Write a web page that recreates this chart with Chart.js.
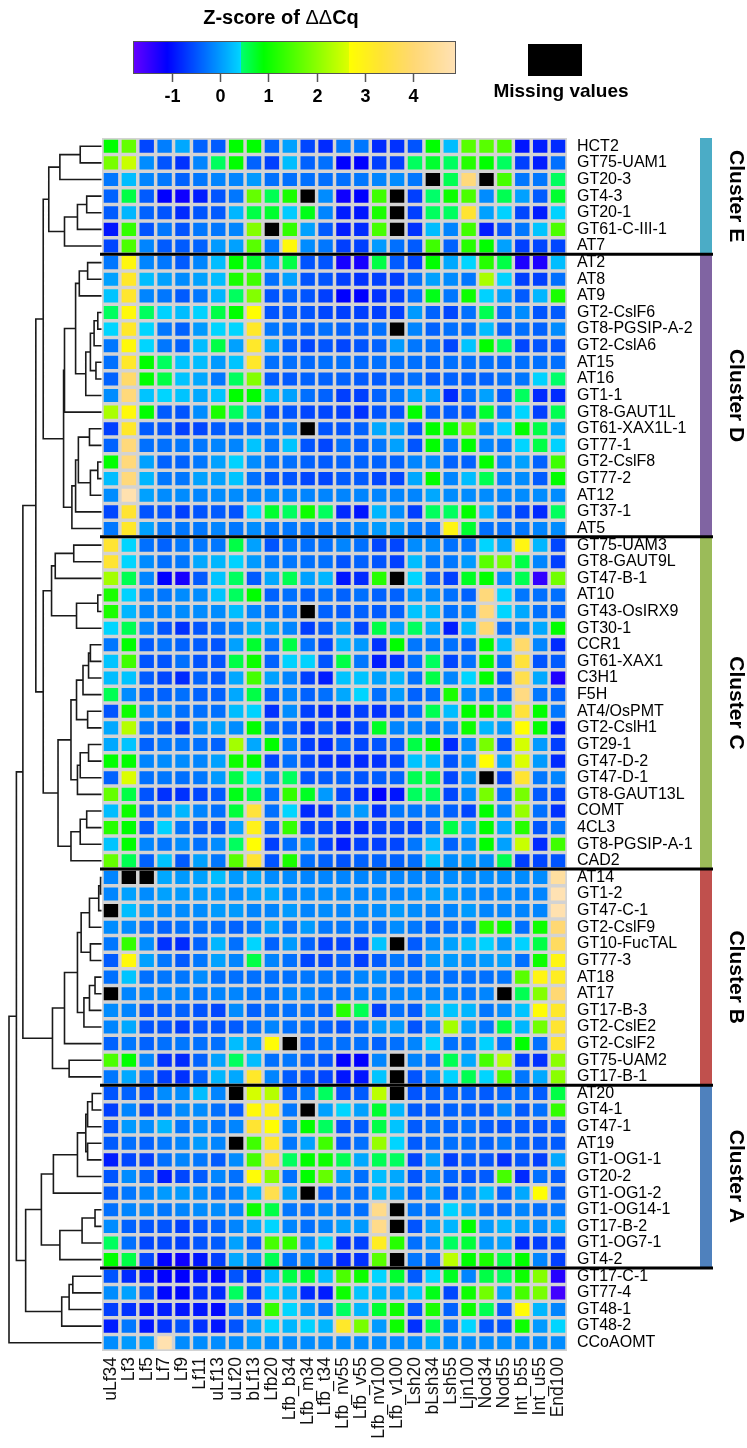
<!DOCTYPE html>
<html>
<head>
<meta charset="utf-8">
<script src="https://cdn.jsdelivr.net/npm/chart.js@4.4.1/dist/chart.umd.min.js"></script>
<style>
  html, body { margin: 0; padding: 0; background: #fff; }
  #wrap { width: 747px; height: 1448px; position: relative; }
</style>
</head>
<body>
<div id="wrap"><canvas id="heat" width="747" height="1448"></canvas></div>
<script>
// Tissue / stage columns
const conditions = ['uLf34','Lf3','Lf5','Lf7','Lf9','Lf11','uLf13','uLf20','bLf13','Lfb20','Lfb_b34','Lfb_m34','Lfb_t34','Lfb_nv55','Lfb_v55','Lfb_nv100','Lfb_v100','Lsh20','bLsh34','Lsh55','Ljn100','Nod34','Nod55','Int_b55','Int_u55','End100'];

// Genes, top to bottom, grouped by cluster
const genesE = ['HCT2','GT75-UAM1','GT20-3','GT4-3','GT20-1','GT61-C-III-1','AT7'];
const genesD = ['AT2','AT8','AT9','GT2-CslF6','GT8-PGSIP-A-2','GT2-CslA6','AT15','AT16','GT1-1','GT8-GAUT1L','GT61-XAX1L-1','GT77-1','GT2-CslF8','GT77-2','AT12','GT37-1','AT5'];
const genesC = ['GT75-UAM3','GT8-GAUT9L','GT47-B-1','AT10','GT43-OsIRX9','GT30-1','CCR1','GT61-XAX1','C3H1','F5H','AT4/OsPMT','GT2-CslH1','GT29-1','GT47-D-2','GT47-D-1','GT8-GAUT13L','COMT','4CL3','GT8-PGSIP-A-1','CAD2'];
const genesB = ['AT14','GT1-2','GT47-C-1','GT2-CslF9','GT10-FucTAL','GT77-3','AT18','AT17','GT17-B-3','GT2-CslE2','GT2-CslF2','GT75-UAM2','GT17-B-1'];
const genesA = ['AT20','GT4-1','GT47-1','AT19','GT1-OG1-1','GT20-2','GT1-OG1-2','GT1-OG14-1','GT17-B-2','GT1-OG7-1','GT4-2'];
const genesOther = ['GT17-C-1','GT77-4','GT48-1','GT48-2','CCoAOMT'];

// Z-scores of ddCq, one row per gene (null = missing value)
const zE = [
  [0.9,1.7,-0.6,-0.2,0.1,-0.4,-0.45,0.9,0.9,-0.4,0.05,-0.6,-0.8,-0.25,-0.25,-0.8,-0.75,-0.5,0.9,0.25,1.6,1.6,1.5,-0.95,-0.9,-0.8],
  [1.85,2.5,-0.1,-0.5,-0.75,-0.15,0.5,0.9,-0.4,-0.65,0.25,-0.4,-0.3,-1.1,-1.1,-0.65,-0.65,0.5,0.7,0.5,1.2,0.9,0.5,-0.65,-0.9,-0.3],
  [-0.25,0.25,-0.15,-0.25,-0.4,-0.25,-0.15,-0.15,0,-0.3,-0.3,-0.3,-0.3,-0.3,-0.25,-0.15,-0.1,-0.25,null,0.55,4.1,null,1.45,-0.25,-0.25,0.5],
  [-0.4,0.6,-0.45,-1.1,-1.2,-0.9,-0.5,-0.25,1.7,0.55,1.1,null,-0.1,-1.2,-1.1,1.4,null,-0.65,0.45,1.0,1.5,-0.1,0.55,0.05,-0.45,0.7],
  [-0.45,0.2,-0.4,-0.5,-0.8,-0.5,-0.45,0.2,0.6,0.7,0.35,0.8,-0.15,-0.9,-0.95,1.1,null,-0.65,0.5,0.5,3.3,0.05,0.4,-0.6,-0.9,0.4],
  [-0.95,1.3,-0.5,-0.25,-0.5,-0.25,-0.25,-0.15,1.95,null,1.3,0.05,-0.45,-0.9,-0.8,1.45,null,-0.75,0.25,-0.15,1.4,-0.9,-0.5,-0.25,0.3,1.5],
  [-0.6,1.5,-0.15,-0.45,-0.45,-0.4,0,0.05,1.6,-0.25,2.8,-0.1,-0.25,-0.65,-0.65,0,-0.3,-0.45,1.4,-0.4,1.2,0.9,0.05,-0.65,-0.6,-0.6]
];
const zD = [
  [-0.25,2.85,-0.15,-0.25,-0.45,-0.15,0.25,0.9,0.7,0.1,0.6,-0.5,-0.5,-1.25,-1.25,0.6,-0.45,-0.6,0.9,0.1,0.42,1.2,0.6,-1.3,-1.3,0.25],
  [0.05,3.2,0.25,0.05,-0.1,0.05,0.25,1.1,1.4,-0.3,0.05,-0.5,-0.5,-0.65,-0.75,-0.65,-0.65,-0.3,0.05,-0.1,-0.25,2.25,0.4,-0.65,-0.65,-0.3],
  [0.3,3.25,-0.15,-0.25,-0.45,-0.25,0.2,0.5,1.95,-0.5,-0.4,-0.5,-0.65,-1.1,-1.1,-0.75,-0.65,-0.3,0.8,-0.25,1.0,0.4,0.05,-0.45,0.2,1.1],
  [0.5,2.8,0.5,0.4,0.25,0.4,0.6,0.9,2.7,-0.5,-0.45,-0.5,-0.6,-0.65,-0.65,-0.65,-0.65,0,-0.4,-0.6,-0.3,0.55,-0.3,-0.1,-0.5,-0.45],
  [0.42,3.2,0.42,-0.25,-0.4,0,0.42,0.42,3.2,-0.25,-0.3,-0.4,-0.3,-0.4,-0.4,-0.3,null,-0.15,-0.4,-0.3,-0.3,0.25,-0.4,-0.3,-0.4,-0.1],
  [-0.25,2.8,0.42,-0.25,-0.4,0.25,0.6,0.05,3.2,0.05,-0.45,-0.6,-0.5,-0.6,-0.5,-0.4,0,-0.25,-0.3,-0.6,0.3,0.9,0.5,-0.6,-0.5,-0.5],
  [-0.3,3.2,0.9,0.5,0.3,0.25,0,0.3,3.2,-0.3,-0.3,-0.35,-0.3,-0.3,-0.35,-0.3,-0.3,-0.3,-0.35,-0.3,-0.3,-0.3,-0.35,-0.3,-0.3,-0.3],
  [-0.4,3.9,0.9,0.6,0.3,0.1,-0.25,0.5,1.95,-0.45,-0.45,-0.4,-0.4,-0.4,-0.45,-0.45,-0.4,-0.3,-0.45,-0.4,-0.4,-0.4,-0.3,-0.25,0.4,0.45],
  [-0.1,4.1,0.3,0.42,0.3,0.1,0.3,0.9,0.9,0.2,0.05,-0.3,-0.4,-0.65,-0.65,-0.4,-0.25,0.05,0.05,-0.8,-0.3,0.05,-0.45,0.5,-0.8,-0.8],
  [2.25,2.8,0.9,-0.45,-0.5,-0.1,1.1,0.5,0.1,-0.5,-0.5,-0.6,-0.6,-0.65,-0.75,-0.5,-0.5,0.9,-0.4,-0.45,-0.45,0.7,-0.25,0.42,-0.65,0.55],
  [-0.65,3.2,-0.45,-0.5,-0.65,-0.6,-0.45,-0.4,-0.4,-0.3,-0.25,null,-0.5,-0.5,-0.4,0.1,0.05,-0.5,0.9,1.0,1.7,-0.1,0.4,0.9,0.6,0.1],
  [-0.4,4.1,-0.3,-0.3,-0.25,-0.25,-0.15,-0.15,0.3,-0.25,0.3,-0.5,-0.6,-0.3,-0.45,-0.25,0.05,-0.5,0.9,-0.25,0.9,-0.15,-0.25,0.42,0.6,0.4],
  [0.9,4.1,0.05,-0.4,-0.4,-0.25,0.05,0.4,-0.1,-0.3,-0.3,-0.4,-0.45,-0.4,-0.4,-0.4,-0.4,-0.15,-0.1,-0.4,-0.4,0.9,-0.15,0.05,-0.4,1.4],
  [0.25,4.1,0.2,-0.25,-0.25,0.05,0.05,0.3,-0.3,-0.5,-0.5,-0.6,-0.6,-0.45,-0.45,-0.6,-0.6,0.1,0.9,-0.15,0.25,0.55,-0.15,-0.1,-0.45,0.9],
  [-0.1,4.8,0.05,-0.1,-0.1,-0.15,-0.1,-0.1,-0.15,-0.1,-0.15,-0.15,-0.15,-0.15,-0.15,-0.15,-0.15,-0.15,0.1,-0.1,-0.1,-0.1,-0.15,-0.1,-0.1,-0.1],
  [-0.6,3.3,-0.5,-0.5,-0.65,-0.5,-0.45,-0.5,0.42,0.7,0.5,1.0,0.5,-0.8,-0.95,0.2,-0.1,-0.65,0.5,0.5,0.9,0.2,-0.4,-0.6,-0.8,0.5],
  [-0.25,3.2,0.05,-0.25,-0.25,-0.25,-0.15,-0.25,-0.1,-0.25,-0.25,-0.25,-0.25,-0.25,-0.15,0,0,-0.25,-0.25,2.9,0.7,-0.3,-0.3,-0.25,-0.15,-0.1]
];
const zC = [
  [3.3,0.42,-0.3,-0.4,-0.25,-0.25,-0.25,0.6,0.05,-0.5,-0.3,-0.3,-0.3,-0.15,-0.3,-0.6,-0.6,-0.1,-0.1,-0.3,-0.25,0.42,0.1,2.9,0.2,-0.6],
  [3.3,0.42,-0.1,-0.3,-0.25,0.1,0.2,0.4,0,-0.25,-0.25,-0.3,-0.3,-0.5,-0.4,-0.5,-0.65,0.25,-0.25,-0.25,0,1.6,1.85,0.6,-0.15,-0.65],
  [2.2,0.55,-0.15,-1.1,-1.25,-0.45,0.3,0.5,-0.45,0.1,0.55,0.05,0.2,-0.95,-0.8,1.2,null,0.42,-0.4,-0.65,0.75,0.9,-0.1,0.55,-1.45,1.8],
  [1.1,0.4,-0.15,-0.25,-0.1,-0.1,0.3,0.5,0.9,-0.4,-0.3,-0.4,-0.3,-0.4,-0.3,-0.4,-0.4,0,-0.1,-0.3,-0.4,4.1,0.42,-0.25,-0.3,-0.3],
  [1.1,0.2,-0.15,-0.15,-0.1,-0.1,-0.1,0.25,-0.15,-0.3,-0.3,null,-0.4,-0.45,-0.4,-0.45,-0.4,0.3,0.2,-0.3,-0.15,4.1,0.42,0.1,-0.3,-0.4],
  [0.42,0.55,-0.15,-0.5,-0.75,-0.5,-0.3,-0.15,0.1,0.05,-0.15,-0.65,-0.45,0.05,-0.6,0.6,0.05,0.5,0.1,-0.9,0.2,4.0,-0.3,-0.1,0.1,0.9],
  [-0.25,0.9,-0.45,-0.3,-0.4,-0.45,-0.5,0.05,0.7,-0.3,0.6,-0.3,-0.6,0.2,0,-0.75,0.9,-0.25,-0.25,-0.3,-0.4,0.9,0.25,3.9,-0.15,-0.8],
  [0.3,1.4,-0.5,-0.5,-0.3,-0.5,-0.5,0.6,1.0,-0.4,0.4,0.4,-0.5,0.6,-0.25,-0.9,-0.75,-0.3,0.5,-0.6,-0.3,0.9,-0.3,3.4,-0.5,-0.45],
  [0.25,0.3,-0.45,-0.6,-0.8,-0.4,-0.5,0.1,1.45,0.05,-0.15,-0.65,-0.9,0.3,0.3,0.05,0.2,-0.3,0.6,-0.15,0.42,0.9,-0.45,3.6,0.1,-1.3],
  [0.55,-0.1,-0.4,-0.4,-0.3,-0.4,-0.4,0.1,0.6,-0.4,-0.15,-0.4,-0.3,0.1,0.42,-0.3,0,-0.4,-0.3,1.1,-0.1,-0.15,-0.3,4.2,-0.25,-0.4],
  [-0.5,1.0,-0.1,-0.1,-0.3,-0.3,-0.3,0.25,0.4,-0.75,-0.1,-0.65,-0.8,-0.8,-0.65,-0.75,-0.6,-0.3,0.55,0.25,0.9,0.9,0.6,3.4,0.9,-0.25],
  [0.1,2.35,-0.25,-0.4,-0.65,-0.1,0.05,-0.1,0.9,-0.4,-0.4,-0.75,-0.5,-0.8,-0.6,0.75,-0.15,-0.15,-0.25,-0.1,1.0,0.2,0,2.7,0.9,-0.9],
  [0.1,0.3,-0.4,-0.25,-0.25,-0.3,-0.4,2.2,0.1,0.9,-0.25,-0.65,-0.8,-0.4,-0.6,-0.5,-0.45,0.6,0.9,-0.8,-0.1,1.85,-0.5,2.6,0,-0.65],
  [0.9,0.9,-0.15,-0.1,-0.1,-0.15,0.05,1.0,0.9,-0.6,-0.3,-0.6,-0.75,-0.8,-0.8,-0.75,-0.6,0.3,0.2,-0.5,0,2.7,0.05,2.65,0,-0.8],
  [-0.4,2.65,-0.3,-0.25,-0.3,-0.25,0,0.6,0.42,-0.15,0.5,-0.5,-0.45,-0.4,-0.5,-0.45,-0.4,0.55,0.6,-0.6,0,null,-0.6,3.3,-0.25,-0.15],
  [1.7,0.6,-0.5,-0.75,-0.75,-0.6,-0.45,0.8,0.6,-0.3,1.3,0.75,0,-0.6,-0.8,-1.1,-0.95,0.5,0.5,-0.6,-0.1,1.85,-0.3,1.85,-0.45,-0.6],
  [0.25,1.0,-0.4,-0.15,0.2,-0.15,-0.3,0.65,3.4,-0.3,0.42,-0.8,-0.75,-0.1,0,-0.75,-0.25,-0.25,-0.25,-0.4,-0.6,0.9,-0.15,2.1,-0.3,-0.75],
  [1.2,0.9,-0.45,0.4,-0.25,-0.45,-0.5,0.05,3.0,-0.4,1.3,-0.65,-0.6,-0.8,-0.8,-0.65,-0.6,-0.65,-0.25,0.6,0.1,0.9,0.1,1.2,-0.5,-0.25],
  [0.3,0.9,-0.15,-0.25,-0.1,-0.3,-0.1,0.5,2.7,-0.65,-0.3,-0.15,-0.65,-0.9,-0.65,-0.65,-0.6,-0.25,0.25,-0.4,-0.1,0.9,0.05,2.5,-0.8,1.4],
  [1.7,0.55,-0.4,0.3,-0.45,0.05,-0.25,1.6,3.3,-0.5,1.1,-0.3,-0.4,-0.5,-0.4,-0.4,-0.4,-0.3,0.3,-0.1,0,-0.1,0.55,-0.65,-0.6,-0.5]
];
const zB = [
  [-0.15,null,null,0.1,0,0.05,0.25,0,0.1,-0.1,-0.1,-0.15,-0.15,-0.15,-0.15,-0.15,-0.15,-0.15,-0.15,-0.1,-0.1,-0.1,-0.1,-0.1,-0.1,4.6],
  [-0.15,0.05,-0.1,0.05,0,0,0,-0.1,0.05,0.1,-0.15,-0.1,-0.1,-0.1,-0.15,-0.1,-0.15,-0.1,0.05,0,-0.1,-0.15,-0.1,-0.15,-0.15,4.85],
  [null,0.25,0,-0.1,-0.1,-0.1,0,0,-0.15,-0.15,0,-0.15,-0.1,-0.15,-0.1,-0.1,0,-0.1,-0.15,-0.15,0,-0.15,-0.15,-0.15,-0.15,4.8],
  [-0.1,-0.1,-0.3,-0.4,-0.3,-0.3,-0.3,-0.4,-0.3,0.05,-0.3,0,-0.25,-0.25,-0.25,-0.3,-0.1,-0.25,-0.4,-0.3,-0.3,1.2,1.0,-0.3,1.0,4.0],
  [-0.25,1.3,-0.1,-0.75,-0.8,-0.4,0.2,-0.3,0.42,-0.4,0,-0.4,-0.65,-0.6,-0.65,0.3,null,-0.45,-0.1,0.05,0.25,0.4,0,0.4,0.6,3.8],
  [-0.45,2.8,0.05,-0.25,-0.45,-0.25,0.05,-0.15,0.6,-0.15,-0.3,-0.6,-0.6,-0.4,-0.65,-0.45,-0.25,-0.4,0,0,-0.1,0,0.05,-0.3,1.0,2.9],
  [-0.3,0.3,-0.3,-0.25,-0.25,-0.1,-0.3,-0.3,-0.3,-0.3,-0.3,-0.25,-0.25,-0.3,-0.15,-0.1,-0.3,-0.3,-0.3,-0.3,-0.3,-0.3,-0.25,1.6,2.9,3.1],
  [null,-0.15,-0.15,-0.15,-0.15,-0.25,-0.15,-0.15,-0.25,-0.25,-0.15,-0.15,-0.25,-0.25,-0.15,-0.15,-0.15,-0.15,-0.15,-0.15,-0.25,-0.15,null,0.55,1.95,4.0],
  [-0.1,-0.15,-0.5,-0.45,-0.4,-0.5,-0.6,-0.1,-0.4,-0.3,-0.3,-0.3,-0.4,1.2,0.55,-0.65,-0.3,-0.45,0.2,0.3,0.2,-0.25,-0.1,0.3,2.75,3.2],
  [-0.15,0.1,-0.5,-0.5,-0.65,-0.5,-0.5,-0.45,-0.3,-0.15,-0.3,-0.3,-0.4,-0.5,-0.3,0,0,-0.5,-0.15,2.2,0.05,-0.25,0.6,0.2,1.8,3.3],
  [-0.4,-0.25,-0.4,-0.3,-0.25,-0.3,-0.3,0.25,0,2.75,null,-0.4,-0.3,-0.3,-0.3,-0.4,-0.3,-0.15,0.42,-0.3,-0.25,0.4,-0.3,0.9,-0.3,3.3],
  [1.5,0.9,-0.15,-0.75,-0.8,-0.4,0.05,0.5,0.25,-0.3,-0.25,-0.4,-0.5,-1.1,-1.1,-0.15,null,-0.15,-0.3,0.55,0.1,1.45,2.35,-0.65,-0.75,2.0],
  [-0.25,0.1,-0.3,-0.65,-0.75,-0.4,0.2,0.1,3.2,-0.15,-0.45,-0.5,-0.6,-0.95,-0.95,0.3,null,-0.5,-0.1,0.4,0.55,0.42,1.5,-0.25,0.1,2.0]
];
const zA = [
  [-0.5,-0.4,-0.5,-0.1,-0.1,0.25,-0.15,null,2.6,2.35,-0.4,-0.25,0.5,-0.5,-0.45,2.4,null,-0.5,-0.4,-0.4,-0.4,-0.45,-0.4,-0.3,-0.45,0.6],
  [-0.65,-0.15,-0.6,-0.4,-0.1,-0.1,-0.3,-0.45,2.8,3.0,-0.25,null,0.05,0.42,0.05,0.7,0.2,-0.45,-0.45,-0.4,-0.4,-0.45,-0.1,-0.45,-0.3,1.3],
  [-0.5,0,-0.1,0.2,-0.25,-0.1,-0.25,-0.15,3.3,2.7,-0.15,0.9,0.5,-0.5,-0.45,0.6,0.3,-0.45,-0.3,-0.4,-0.3,-0.45,-0.5,-0.45,-0.5,-0.45],
  [-0.45,-0.3,-0.4,-0.25,-0.15,0,-0.15,null,1.4,3.2,-0.25,0.05,1.4,-0.45,-0.3,2.1,0.42,-0.45,-0.3,-0.3,-0.3,-0.4,-0.25,-0.4,-0.45,-0.45],
  [-0.9,-0.6,-0.65,-0.3,-0.15,-0.25,-0.45,-0.1,1.45,3.4,0.5,0.9,1.0,0.55,0.1,0.55,0.5,-0.6,0.05,-0.65,-0.45,-0.5,-0.75,-0.5,-0.65,0.1],
  [-0.5,-0.1,-0.4,-0.9,-0.6,-0.45,-0.15,-0.3,2.75,1.95,-0.3,0.9,1.7,0,-0.3,0.25,0.1,-0.5,-0.1,-0.4,-0.5,-0.45,1.45,-0.8,-0.3,-0.45],
  [-0.45,-0.25,-0.15,0,0,-0.1,-0.3,-0.15,0.2,3.6,0.05,null,-0.4,-0.25,-0.3,0.2,0.05,-0.4,0.05,-0.5,-0.15,0.25,-0.4,0.1,2.7,-0.4],
  [-0.3,-0.15,-0.15,-0.25,-0.15,-0.1,-0.1,-0.15,1.0,0.6,-0.25,-0.3,-0.15,-0.3,-0.3,4.3,null,-0.25,-0.25,0.4,0.1,-0.25,-0.3,-0.15,-0.3,-0.25],
  [-0.1,-0.4,-0.5,-0.5,-0.65,-0.5,-0.4,-0.15,0.1,0.42,-0.15,-0.3,-0.15,0.05,0,4.3,null,-0.5,0.05,0.2,0.9,0,0.2,0.05,-0.1,0.1],
  [0.5,-0.3,-0.6,-0.6,-0.65,-0.5,-0.45,0.05,-0.4,1.45,1.3,-0.1,0.4,-0.75,-0.65,3.1,1.2,-0.3,0,0.5,0.65,0,0.05,-0.8,-0.65,-0.65],
  [0.9,0.6,-0.6,-1.1,-1.2,-0.95,-0.65,0.1,-0.1,0.55,-0.3,-0.15,-0.45,-0.8,-0.75,1.6,null,-0.25,-0.3,2.4,0.9,1.1,0.6,0.9,-0.15,-0.65]
];
const zOther = [
  [-0.5,-0.8,-0.95,-1.1,-1.1,-0.95,-1.05,-0.5,-0.8,0.25,0.6,0.7,0.25,1.5,1.0,0.42,0.7,-0.45,0.42,0.75,-0.15,0.6,0.5,1.0,1.95,-1.35],
  [-0.1,0.05,-0.5,-1.05,-1.05,-0.75,-0.8,0.5,-0.65,0.4,0.2,-0.8,-0.9,1.0,0.3,0.2,0.05,0.3,0.8,-0.6,1.0,1.8,0.05,1.45,1.85,-1.55],
  [-0.65,-0.75,-0.95,-0.9,-0.95,-0.95,-1.05,-0.25,-0.65,1.3,0.42,0.05,-0.3,0.5,0.2,0.7,1.0,-0.5,1.1,-0.4,1.0,0.55,-0.45,2.75,0.2,-0.15],
  [-0.9,-0.25,-0.95,-0.75,-0.5,-0.75,-0.95,-0.5,0,0.42,0.2,0.4,0.2,3.2,1.85,0,1.0,-0.75,0.6,-0.3,0.42,-0.5,-0.5,1.0,0,0.42],
  [-0.1,0,0,4.8,-0.1,-0.1,-0.1,-0.1,0,-0.1,-0.1,-0.1,-0.1,-0.1,-0.1,-0.1,-0.1,-0.1,0.1,-0.1,-0.1,-0.1,-0.1,-0.1,-0.1,-0.1]
];

// Hierarchical clustering of the genes: [left, right, height]
// negative = gene (1-based row), positive = earlier merge step (1-based)
const dendroMerges = [
  [-1,-2,0.23],[1,-3,0.45],[-4,-5,0.16],[3,-6,0.26],[4,-7,0.40],[2,5,0.57],
  [-8,-9,0.15],[7,-10,0.24],[-11,-12,0.04],[9,-13,0.08],[-14,-15,0.06],[10,11,0.12],
  [12,-16,0.17],[8,13,0.28],[14,-17,0.40],[-18,-19,0.13],[-20,-21,0.04],[17,-22,0.12],
  [16,18,0.25],[19,-23,0.28],[20,-24,0.32],[15,21,0.41],[6,22,0.63],
  [-25,-26,0.30],[24,-27,0.50],[-28,-29,0.04],[26,-30,0.27],[25,27,0.54],
  [-31,-32,0.12],[29,-33,0.14],[30,-34,0.20],[-35,-36,0.15],[31,32,0.27],
  [-37,-38,0.14],[34,-39,0.23],[35,-40,0.26],[33,36,0.33],
  [-41,-42,0.16],[38,-43,0.23],[39,-44,0.33],[37,40,0.47],[28,41,0.63],[23,42,0.71],
  [-45,-46,0.01],[44,-47,0.03],[45,-48,0.13],[-49,-50,0.12],[46,47,0.22],
  [-51,-52,0.07],[49,-53,0.13],[50,-54,0.19],[48,51,0.26],[52,-55,0.40],
  [-56,-57,0.35],[53,54,0.53],[43,55,0.85],
  [-58,-59,0.10],[57,-60,0.15],[-61,-62,0.15],[58,59,0.17],[60,-63,0.26],[61,-64,0.52],
  [-65,-66,0.07],[63,-67,0.21],[64,-68,0.45],[62,65,0.65],
  [-69,-70,0.31],[67,-71,0.35],[68,-72,0.43],[66,69,0.82],[56,70,0.92],[71,-73,1.0]
];

// Cluster annotation
const clusterNames = ['Cluster E','Cluster D','Cluster C','Cluster B','Cluster A'];
const clusterColors = ['#4BACC6','#8064A2','#9BBB59','#C0504D','#4F81BD'];
const clusterSizes = [genesE.length, genesD.length, genesC.length, genesB.length, genesA.length];

// Colour key
const colorbarTicks = [-1, 0, 1, 2, 3, 4];
const colorbarRange = [-1.81, 4.89];
const colorStops = [
  [-1.81, [102, 0, 255]],
  [-1.10, [0, 0, 255]],
  [0.42, [0, 213, 255]],
  [0.43, [0, 255, 110]],
  [0.90, [0, 255, 0]],
  [2.66, [220, 255, 0]],
  [2.67, [255, 255, 0]],
  [3.30, [255, 228, 50]],
  [4.00, [255, 216, 115]],
  [4.89, [255, 226, 182]]
];

function zColor(v) {
  if (v === null) return '#000000';
  if (v <= colorStops[0][0]) return `rgb(${colorStops[0][1].join(',')})`;
  for (let i = 1; i < colorStops.length; i++) {
    const [v1, c1] = colorStops[i];
    if (v <= v1) {
      const [v0, c0] = colorStops[i - 1];
      const t = (v - v0) / (v1 - v0);
      const c = c0.map((a, k) => Math.round(a + (c1[k] - a) * t));
      return `rgb(${c.join(',')})`;
    }
  }
  return `rgb(${colorStops[colorStops.length - 1][1].join(',')})`;
}

const genes = [...genesE, ...genesD, ...genesC, ...genesB, ...genesA, ...genesOther];
const zRows = [...zE, ...zD, ...zC, ...zB, ...zA, ...zOther];

const FONT = "'Liberation Sans', Arial, Helvetica, sans-serif";
Chart.defaults.font.family = FONT;
Chart.defaults.color = '#000';

const datasets = zRows.map((row, r) => ({
  label: genes[r],
  data: row.map(() => [r, r + 1]),
  backgroundColor: row.map(zColor),
  borderColor: '#d3d3d3',
  borderWidth: 1.75,
  borderSkipped: false,
  inflateAmount: 0,
  barPercentage: 1,
  categoryPercentage: 1
}));

const decor = {
  id: 'decor',
  beforeDatasetsDraw(chart) {
    const { ctx, chartArea: a } = chart;
    ctx.save();
    ctx.fillStyle = '#d3d3d3';
    ctx.fillRect(a.left, a.top, a.right - a.left, a.bottom - a.top);
    ctx.restore();
  },
  afterDraw(chart) {
    const { ctx, chartArea: a } = chart;
    const y = chart.scales.y;

    // dendrogram
    const leafX = a.left - 0.5, rootX = 9;
    const nodes = [];
    const pos = ref => ref < 0 ? { x: leafX, y: y.getPixelForValue(-ref - 0.5) } : nodes[ref - 1];
    ctx.save();
    ctx.strokeStyle = '#1a1a1a';
    ctx.lineWidth = 1.6;
    ctx.beginPath();
    dendroMerges.forEach(([p, q, h]) => {
      const A = pos(p), B = pos(q);
      const x = leafX - h * (leafX - rootX);
      ctx.moveTo(A.x, A.y); ctx.lineTo(x, A.y); ctx.lineTo(x, B.y); ctx.lineTo(B.x, B.y);
      nodes.push({ x, y: (A.y + B.y) / 2 });
    });
    ctx.stroke();
    ctx.restore();

    // cluster bars, labels and separators
    let start = 0;
    const breaks = [];
    clusterSizes.forEach((n, i) => {
      const y0 = y.getPixelForValue(start), y1 = y.getPixelForValue(start + n);
      ctx.fillStyle = clusterColors[i];
      ctx.fillRect(700, y0, 12, y1 - y0);
      ctx.save();
      ctx.translate(736, (y0 + y1) / 2);
      ctx.rotate(Math.PI / 2);
      ctx.font = `bold 21px ${FONT}`;
      ctx.textAlign = 'center';
      ctx.textBaseline = 'middle';
      ctx.fillStyle = '#000';
      ctx.fillText(clusterNames[i], 0, 0);
      ctx.restore();
      start += n;
      breaks.push(start);
    });
    ctx.save();
    ctx.strokeStyle = '#000';
    ctx.lineWidth = 3;
    breaks.forEach(k => {
      const yy = y.getPixelForValue(k);
      ctx.beginPath(); ctx.moveTo(100, yy); ctx.lineTo(713, yy); ctx.stroke();
    });
    ctx.restore();

    // colour key
    const cb = { x0: 133, x1: 456, y0: 41, y1: 74 };
    const [vMin, vMax] = colorbarRange;
    const xOf = v => cb.x0 + (v - vMin) / (vMax - vMin) * (cb.x1 - cb.x0);
    for (let px = cb.x0; px < cb.x1; px++) {
      const v = vMin + (px + 0.5 - cb.x0) / (cb.x1 - cb.x0) * (vMax - vMin);
      ctx.fillStyle = zColor(v);
      ctx.fillRect(px, cb.y0, 1, cb.y1 - cb.y0);
    }
    ctx.save();
    ctx.strokeStyle = '#555';
    ctx.lineWidth = 1;
    ctx.strokeRect(cb.x0 + 0.5, cb.y0 + 0.5, cb.x1 - cb.x0 - 1, cb.y1 - cb.y0 - 1);
    ctx.lineWidth = 1.5;
    ctx.font = `bold 18px ${FONT}`;
    ctx.textAlign = 'center';
    ctx.textBaseline = 'middle';
    ctx.fillStyle = '#000';
    colorbarTicks.forEach(t => {
      const x = Math.round(xOf(t)) + 0.5;
      ctx.beginPath(); ctx.moveTo(x, cb.y1); ctx.lineTo(x, cb.y1 + 8); ctx.stroke();
      ctx.fillText(String(t), x, 97);
    });

    // title: "Z-score of ΔΔCq"
    const parts = [
      { t: 'Z-score of ', f: `bold 20px ${FONT}` },
      { t: '\u0394\u0394', f: `20px ${FONT}` },
      { t: 'Cq', f: `bold 20px ${FONT}` }
    ];
    let total = 0;
    parts.forEach(p => { ctx.font = p.f; p.w = ctx.measureText(p.t).width; total += p.w; });
    let tx = 281 - total / 2;
    ctx.textAlign = 'left';
    ctx.textBaseline = 'alphabetic';
    parts.forEach(p => { ctx.font = p.f; ctx.fillText(p.t, tx, 24); tx += p.w; });

    // missing value key
    ctx.fillStyle = '#000';
    ctx.fillRect(528, 44, 54, 32);
    ctx.font = `bold 19px ${FONT}`;
    ctx.textAlign = 'center';
    ctx.textBaseline = 'middle';
    ctx.fillText('Missing values', 561, 92);
    ctx.restore();
  }
};

new Chart(document.getElementById('heat'), {
  type: 'bar',
  data: { labels: conditions, datasets },
  options: {
    responsive: false,
    devicePixelRatio: 1,
    animation: false,
    layout: { padding: { top: 138, left: 102, right: 0, bottom: 0 } },
    plugins: { legend: { display: false }, tooltip: { enabled: false } },
    scales: {
      x: {
        type: 'category',
        stacked: true,
        position: 'bottom',
        grid: { display: false, drawTicks: false },
        border: { display: false },
        ticks: { autoSkip: false, minRotation: 90, maxRotation: 90, padding: 6, color: '#111', font: { size: 17.5 } },
        afterFit(s) { s.height = 97; }
      },
      y: { type: 'linear', min: 0, max: genes.length, reverse: true, display: false },
      genes: {
        type: 'category',
        axis: 'y',
        labels: genes,
        position: 'right',
        offset: true,
        grid: { display: false, drawTicks: false },
        border: { display: false },
        ticks: { autoSkip: false, padding: 10, color: '#000', font: { size: 16 } },
        afterFit(s) { s.width = 180; }
      }
    }
  },
  plugins: [decor]
});
</script>
</body>
</html>
